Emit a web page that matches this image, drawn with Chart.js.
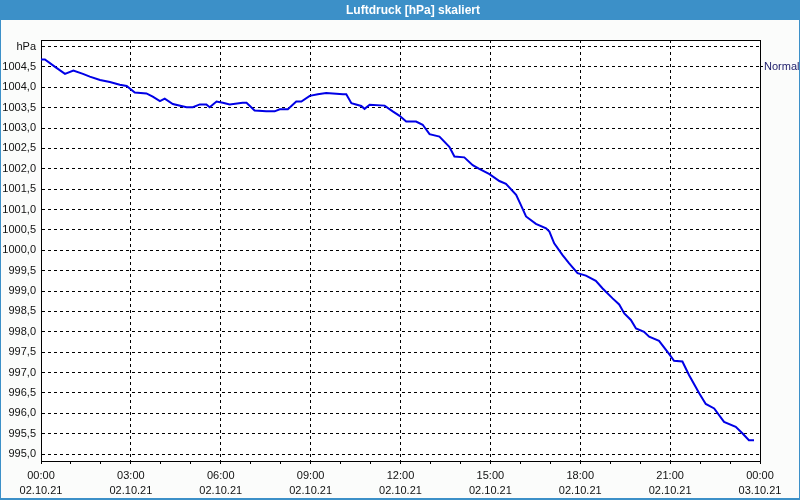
<!DOCTYPE html>
<html>
<head>
<meta charset="utf-8">
<script src="https://cdn.jsdelivr.net/npm/chart.js@4.4.0/dist/chart.umd.min.js"></script>
<style>
  html, body { margin: 0; padding: 0; background: #fbfcfb; }
  #wrap { width: 800px; height: 500px; }
</style>
</head>
<body>
<div id="wrap"><canvas id="myChart" width="800" height="500"></canvas></div>
<script>
// Stunden seit 02.10.21 00:00
const stunden = [0, 0.13, 0.47, 0.8, 1.08, 1.4, 1.63, 1.97, 2.3, 2.63, 2.86, 3.13, 3.52, 3.73, 3.97, 4.13, 4.4, 4.86, 5.07, 5.3, 5.52, 5.63, 5.86, 6.07, 6.3, 6.73, 6.86, 7.13, 7.52, 7.8, 7.97, 8.24, 8.52, 8.69, 8.97, 9.24, 9.52, 10.08, 10.19, 10.36, 10.69, 10.8, 10.97, 11.47, 11.74, 11.97, 12.19, 12.52, 12.74, 12.97, 13.3, 13.63, 13.8, 14.13, 14.41, 14.63, 14.97, 15.3, 15.52, 15.86, 16.02, 16.19, 16.52, 16.86, 16.97, 17.13, 17.41, 17.63, 17.91, 18.19, 18.52, 18.74, 19.08, 19.3, 19.47, 19.69, 19.86, 20.13, 20.3, 20.63, 20.97, 21.13, 21.41, 21.63, 21.97, 22.19, 22.47, 22.8, 23.19, 23.41, 23.63, 23.8];
// Luftdruck in hPa
const druck = [1004.68, 1004.68, 1004.50, 1004.33, 1004.41, 1004.33, 1004.26, 1004.18, 1004.13, 1004.06, 1004.03, 1003.87, 1003.85, 1003.77, 1003.66, 1003.72, 1003.59, 1003.51, 1003.51, 1003.58, 1003.58, 1003.51, 1003.65, 1003.62, 1003.58, 1003.62, 1003.62, 1003.43, 1003.41, 1003.41, 1003.46, 1003.46, 1003.65, 1003.65, 1003.79, 1003.83, 1003.86, 1003.83, 1003.83, 1003.61, 1003.54, 1003.47, 1003.57, 1003.55, 1003.41, 1003.30, 1003.16, 1003.16, 1003.08, 1002.85, 1002.79, 1002.54, 1002.30, 1002.28, 1002.09, 1002.00, 1001.87, 1001.70, 1001.63, 1001.36, 1001.11, 1000.83, 1000.65, 1000.54, 1000.46, 1000.17, 999.88, 999.68, 999.44, 999.38, 999.25, 999.07, 998.82, 998.67, 998.45, 998.29, 998.08, 998.00, 997.88, 997.78, 997.45, 997.29, 997.27, 996.94, 996.49, 996.23, 996.12, 995.79, 995.67, 995.51, 995.34, 995.34];

const yTicks = [995, 995.5, 996, 996.5, 997, 997.5, 998, 998.5, 999, 999.5, 1000, 1000.5, 1001, 1001.5, 1002, 1002.5, 1003, 1003.5, 1004, 1004.5, 1005];
const xLabelStunden = [0, 3, 6, 9, 12, 15, 18, 21, 24];
const xLabelZeit = ['00:00', '03:00', '06:00', '09:00', '12:00', '15:00', '18:00', '21:00', '00:00'];
const xLabelDatum = ['02.10.21', '02.10.21', '02.10.21', '02.10.21', '02.10.21', '02.10.21', '02.10.21', '02.10.21', '03.10.21'];
const normalWert = 1004.5;

const schrift = { family: "'Liberation Sans', Arial, sans-serif", size: 11 };

// Rahmen, Titelleiste und obere Linie
const rahmen = {
  id: 'rahmen',
  beforeDraw(chart) {
    const c = chart.ctx;
    c.save();
    c.fillStyle = '#fbfcfb';
    c.fillRect(0, 0, 800, 500);
    c.fillStyle = '#ffffff';
    const a = chart.chartArea;
    c.fillRect(a.left, a.top, a.right - a.left, a.bottom - a.top);
    c.restore();
  },
  afterDraw(chart) {
    const c = chart.ctx;
    const a = chart.chartArea;
    c.save();
    c.fillStyle = '#3c90c8';
    c.fillRect(0, 0, 800, 20);
    c.strokeStyle = '#3c90c8';
    c.lineWidth = 1;
    c.strokeRect(0.5, 0.5, 799, 499);
    c.fillRect(0, 498, 800, 2);
    c.fillStyle = '#ffffff';
    c.font = "bold 12px 'Liberation Sans', Arial, sans-serif";
    c.textAlign = 'center';
    c.textBaseline = 'middle';
    c.fillText('Luftdruck [hPa] skaliert', 413, 11);
    c.strokeStyle = '#000';
    c.lineWidth = 1;
    c.beginPath();
    c.moveTo(a.left, Math.round(a.top) + 0.5);
    c.lineTo(a.right + 1, Math.round(a.top) + 0.5);
    c.stroke();
    c.restore();
  }
};

const ctx = document.getElementById('myChart');

new Chart(ctx, {
  type: 'line',
  data: {
    datasets: [{
      label: 'Luftdruck',
      data: stunden.map((h, i) => ({ x: h, y: druck[i] })),
      borderColor: '#0000e6',
      borderWidth: 2,
      pointRadius: 0,
      tension: 0,
      fill: false
    }]
  },
  options: {
    responsive: false,
    animation: false,
    devicePixelRatio: 1,
    layout: { padding: { top: 40, left: 0, right: 0, bottom: 0 } },
    plugins: {
      legend: { display: false },
      tooltip: { enabled: false }
    },
    scales: {
      x: {
        type: 'linear',
        min: 0,
        max: 24,
        afterFit(scale) { scale.height = 39; },
        afterBuildTicks(scale) {
          const t = [];
          for (let h = 0; h <= 24; h++) t.push({ value: h });
          scale.ticks = t;
        },
        ticks: {
          autoSkip: false,
          maxRotation: 0,
          padding: 4,
          color: '#111',
          font: { ...schrift, lineHeight: 1.4 },
          callback: v => {
            const i = xLabelStunden.indexOf(v);
            return i < 0 ? '' : [xLabelZeit[i], xLabelDatum[i]];
          }
        },
        grid: {
          color: c => (c.tick && c.tick.value % 3 === 0) ? '#000' : 'rgba(0,0,0,0)',
          tickColor: '#000',
          tickLength: 3,
          drawTicks: true,
          lineWidth: 1
        },
        border: { display: true, color: '#000', width: 1, dash: [3, 3] }
      },
      y: {
        position: 'left',
        min: 994.83,
        max: 1005.16,
        afterFit(scale) { scale.width = 41; },
        afterBuildTicks(scale) { scale.ticks = yTicks.map(v => ({ value: v })); },
        ticks: {
          padding: 5,
          color: '#111',
          font: schrift,
          callback: v => v === 1005 ? 'hPa' : v.toFixed(1).replace('.', ',')
        },
        grid: { color: '#000', drawTicks: false, lineWidth: 1 },
        border: { display: true, color: '#000', width: 1, dash: [3, 3] }
      },
      y2: {
        position: 'right',
        min: 994.83,
        max: 1005.16,
        afterFit(scale) { scale.width = 40; },
        afterBuildTicks(scale) { scale.ticks = [{ value: normalWert }]; },
        ticks: {
          padding: 1,
          color: '#1c1c6a',
          font: schrift,
          callback: () => 'Normal'
        },
        grid: { drawOnChartArea: false, drawTicks: true, tickLength: 3, tickColor: '#000' },
        border: { display: true, color: '#000', width: 1 }
      }
    }
  },
  plugins: [rahmen]
});
</script>
</body>
</html>
